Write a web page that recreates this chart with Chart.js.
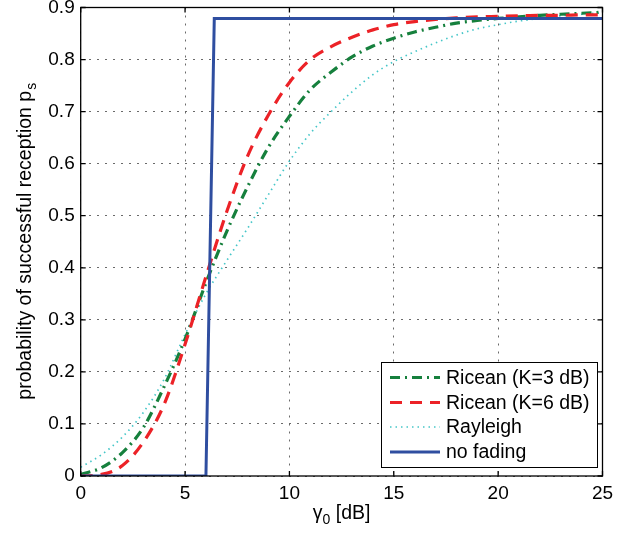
<!DOCTYPE html>
<html>
<head>
<meta charset="utf-8">
<script src="https://cdn.jsdelivr.net/npm/chart.js@4"></script>
<style>
  html, body { margin: 0; padding: 0; background: #fff; }
  #wrap { width: 631px; height: 535px; }
</style>
</head>
<body>
<div id="wrap"><canvas id="c" width="631" height="535"></canvas></div>
<script>
// ---- data ----
const gammaDb = [0,1,2,3,4,5,6,7,8,9,10,11,12,13,14,15,16,17,18,19,20,21,22,23,24,25];
const ricean3 = [0.003,0.016,0.045,0.093,0.172,0.263,0.371,0.470,0.556,0.632,0.691,0.742,0.776,0.805,0.826,0.841,0.853,0.862,0.870,0.875,0.879,0.882,0.885,0.887,0.889,0.891];
const ricean6 = [0.000,0.003,0.020,0.065,0.138,0.253,0.383,0.508,0.615,0.694,0.756,0.800,0.825,0.843,0.857,0.867,0.873,0.877,0.880,0.882,0.883,0.884,0.885,0.885,0.886,0.886];
const rayleigh = [0.017,0.041,0.075,0.122,0.186,0.272,0.350,0.414,0.476,0.541,0.605,0.658,0.700,0.738,0.771,0.796,0.815,0.832,0.847,0.859,0.867,0.874,0.879,0.884,0.887,0.890];
const noFadingX = [0, 6, 6.4, 25];
const noFadingY = [0, 0, 0.879, 0.879];
const xTicks = [0, 5, 10, 15, 20, 25];
const yTicks = [0, 0.1, 0.2, 0.3, 0.4, 0.5, 0.6, 0.7, 0.8, 0.9];
const seriesLabels = ['Ricean (K=3 dB)', 'Ricean (K=6 dB)', 'Rayleigh', 'no fading'];

const FONT = '"Liberation Sans", Arial, Helvetica, sans-serif';
const toPts = (xs, ys) => xs.map((x, i) => ({ x: x, y: ys[i] }));

const datasets = [
  { label: seriesLabels[0], data: toPts(gammaDb, ricean3), borderColor: '#16803d', borderWidth: 3.2, borderDash: [10, 5, 2, 5], order: 3 },
  { label: seriesLabels[1], data: toPts(gammaDb, ricean6), borderColor: '#ec2227', borderWidth: 3.2, borderDash: [12, 8], order: 2 },
  { label: seriesLabels[2], data: toPts(gammaDb, rayleigh), borderColor: '#45c6c8', borderWidth: 1.7, borderDash: [1.5, 4], order: 4 },
  { label: seriesLabels[3], data: toPts(noFadingX, noFadingY), borderColor: '#2f4ea0', borderWidth: 3, borderDash: [], order: 1, cubicInterpolationMode: 'default', tension: 0 }
].map(d => Object.assign({ pointRadius: 0, fill: false, cubicInterpolationMode: 'monotone', borderCapStyle: 'butt' }, d));

const fmt = v => { const r = Math.round(v * 10) / 10; return r === 0 ? '0' : String(r); };

const framePlugin = {
  id: 'frame',
  afterDatasetsDraw(chart) {
    const { ctx, chartArea: a, scales } = chart;
    ctx.save();
    ctx.strokeStyle = '#000';
    ctx.lineWidth = 1.3;
    ctx.setLineDash([]);
    ctx.strokeRect(a.left, a.top, a.right - a.left, a.bottom - a.top);
    const tl = 5;
    ctx.beginPath();
    xTicks.forEach(v => {
      const px = scales.x.getPixelForValue(v);
      ctx.moveTo(px, a.bottom); ctx.lineTo(px, a.bottom - tl);
      ctx.moveTo(px, a.top); ctx.lineTo(px, a.top + tl);
    });
    yTicks.forEach(v => {
      const py = scales.y.getPixelForValue(v);
      ctx.moveTo(a.left, py); ctx.lineTo(a.left + tl, py);
      ctx.moveTo(a.right, py); ctx.lineTo(a.right - tl, py);
    });
    ctx.stroke();

    // legend
    const lx = 381, ly = 362, lw = 216, lh = 105;
    ctx.fillStyle = '#fff';
    ctx.fillRect(lx, ly, lw, lh);
    ctx.strokeStyle = '#000';
    ctx.lineWidth = 1;
    ctx.strokeRect(lx + 0.5, ly + 0.5, lw, lh);
    const rows = [377.5, 402.5, 427, 452];
    chart.data.datasets.forEach((d, i) => {
      const y = rows[i];
      ctx.save();
      ctx.strokeStyle = d.borderColor;
      ctx.lineWidth = d.borderWidth;
      ctx.setLineDash(d.borderDash || []);
      ctx.lineCap = 'butt';
      ctx.beginPath();
      ctx.moveTo(390, y); ctx.lineTo(440, y);
      ctx.stroke();
      ctx.restore();
      ctx.fillStyle = '#000';
      ctx.font = '19.5px ' + FONT;
      ctx.textBaseline = 'middle';
      ctx.textAlign = 'left';
      ctx.fillText(d.label, 446, y + 1);
    });

    // x axis title: gamma_0 [dB]
    ctx.fillStyle = '#000';
    ctx.textBaseline = 'alphabetic';
    ctx.textAlign = 'left';
    const cx = (a.left + a.right) / 2;
    ctx.font = '19.5px ' + FONT;
    const wG = ctx.measureText('γ').width;
    const wRest = ctx.measureText(' [dB]').width;
    ctx.font = '14px ' + FONT;
    const wSub = ctx.measureText('0').width;
    let x0 = cx - (wG + wSub + wRest) / 2;
    const by = 519;
    ctx.font = '19.5px ' + FONT;
    ctx.fillText('γ', x0, by);
    ctx.font = '14px ' + FONT;
    ctx.fillText('0', x0 + wG, by + 5);
    ctx.font = '19.5px ' + FONT;
    ctx.fillText(' [dB]', x0 + wG + wSub, by);

    // y axis title
    ctx.save();
    ctx.translate(31, (a.top + a.bottom) / 2);
    ctx.rotate(-Math.PI / 2);
    const main = 'probability of successful reception p';
    ctx.font = '19.5px ' + FONT;
    const wm = ctx.measureText(main).width;
    ctx.font = '14px ' + FONT;
    const ws = ctx.measureText('s').width;
    const sx = -(wm + ws) / 2;
    ctx.font = '19.5px ' + FONT;
    ctx.fillText(main, sx, 0);
    ctx.font = '14px ' + FONT;
    ctx.fillText('s', sx + wm + 1, 5);
    ctx.restore();
    ctx.restore();
  }
};

new Chart(document.getElementById('c'), {
  type: 'line',
  data: { datasets: datasets },
  options: {
    responsive: false,
    animation: false,
    devicePixelRatio: 1,
    layout: { padding: { left: 0, right: 28.5, top: 7.5, bottom: 0 } },
    plugins: { legend: { display: false }, tooltip: { enabled: false }, title: { display: false } },
    scales: {
      x: {
        type: 'linear', min: 0, max: 25,
        afterBuildTicks: s => { s.ticks = xTicks.map(v => ({ value: v })); },
        ticks: { color: '#000', font: { family: FONT, size: 19 }, padding: 6, maxRotation: 0, callback: v => String(v) },
        grid: { color: '#6a6a6a', lineWidth: 1, drawTicks: false },
        border: { display: false, dash: [2, 6] },
        afterFit: s => { s.height = 59; s.paddingLeft = 0; s.paddingRight = 0; }
      },
      y: {
        type: 'linear', min: 0, max: 0.9,
        afterBuildTicks: s => { s.ticks = yTicks.map(v => ({ value: v })); },
        ticks: { color: '#000', font: { family: FONT, size: 19 }, padding: 6, callback: v => fmt(v) },
        grid: { color: '#6a6a6a', lineWidth: 1, drawTicks: false },
        border: { display: false, dash: [2, 6] },
        afterFit: s => { s.width = 80.7; s.paddingTop = 0; s.paddingBottom = 0; }
      }
    }
  },
  plugins: [framePlugin]
});
</script>
</body>
</html>
